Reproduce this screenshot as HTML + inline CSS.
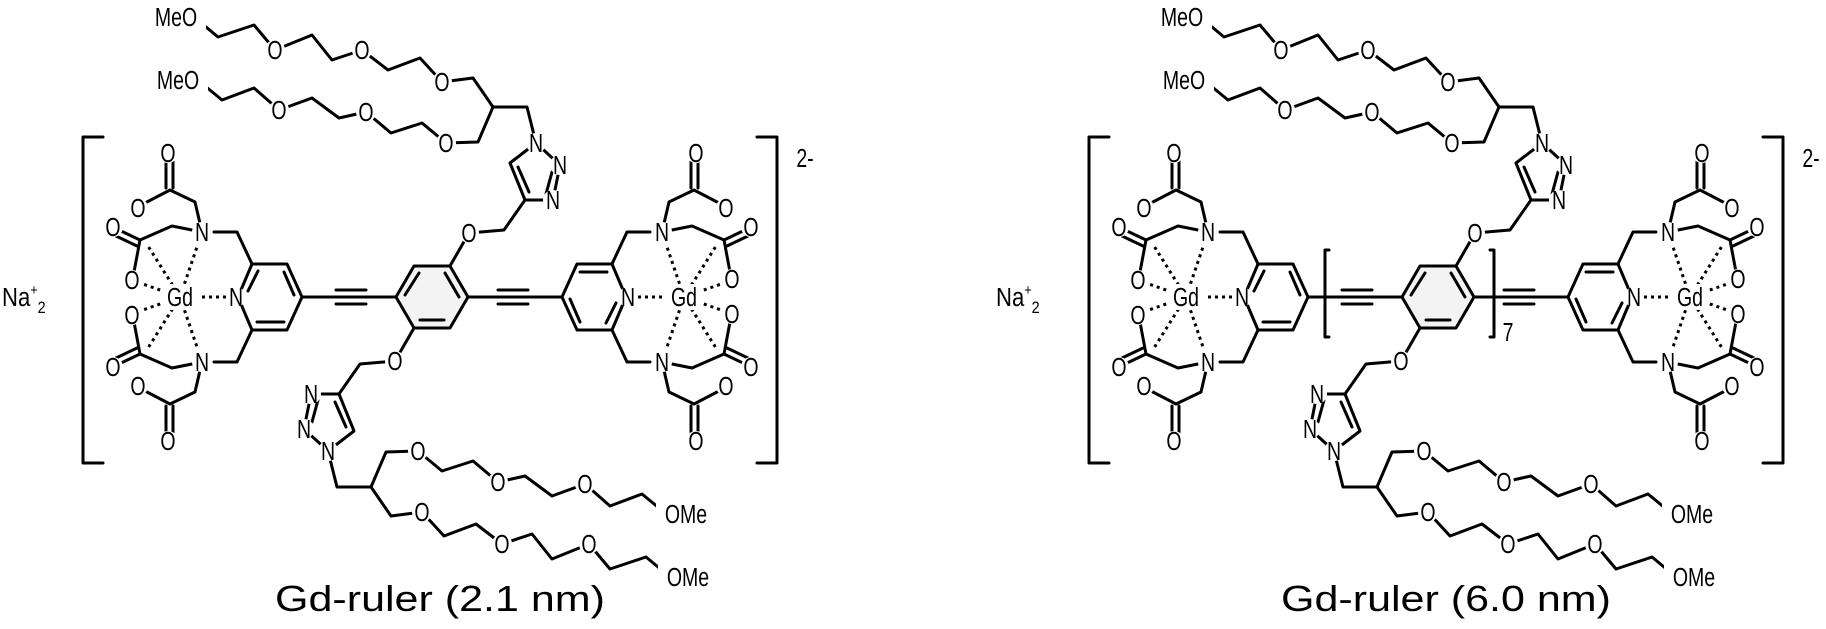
<!DOCTYPE html>
<html><head><meta charset="utf-8"><style>
html,body{margin:0;padding:0;background:#fff;}
svg{display:block}
.b{stroke:#000;stroke-width:3;fill:none;stroke-linecap:round;stroke-linejoin:round}
.d{stroke:#000;stroke-width:3;fill:none;stroke-dasharray:3 4}
.t{font-family:"Liberation Sans",sans-serif;font-size:26px;text-anchor:middle;dominant-baseline:central;fill:#000}
.c{font-family:"Liberation Sans",sans-serif;fill:#000}
</style></head><body>
<svg width="1826" height="629" viewBox="0 0 1826 629" xmlns="http://www.w3.org/2000/svg">
<defs>
<g id="half">
 <polyline class="b" points="200,22 218,37 254,25 275,50 312,35 332,60 362,50 388,70 420,58 442,82 473,78 493,107"/>
 <polyline class="b" points="205,86 222,100 254,88 279,110 312,98 339,118 366,112 391,133 422,123 446,143 478,142 493,107"/>
 <polyline class="b" points="493,107 527,107 536,143"/>
 <polygon class="b" points="536,143 560,165 553,200 525,200 510,163"/>
 <line class="b" x1="529" y1="192" x2="518" y2="167"/>
 <line class="b" x1="552" y1="172" x2="546" y2="194"/>
 <polyline class="b" points="525,200 504,230 469,233 450,266"/>
 <line class="b" x1="302" y1="297" x2="396" y2="297"/>
 <line class="b" x1="336" y1="290" x2="366" y2="290"/>
 <line class="b" x1="336" y1="304" x2="366" y2="304"/>
 <polygon class="b" points="238,297 252,264 287,264 302,297 287,330 252,330"/>
 <line class="b" x1="248" y1="291" x2="258" y2="271"/>
 <line class="b" x1="284" y1="272" x2="294" y2="295"/>
 <line class="b" x1="284" y1="322" x2="257" y2="322"/>
 <polyline class="b" points="214,232 237,232 252,264"/>
 <polyline class="b" points="214,362 237,362 252,330"/>
 <polyline class="b" points="202,232 195,202 170,190 145,203"/>
 <line class="b" x1="166" y1="188" x2="166" y2="160"/>
 <line class="b" x1="173" y1="188" x2="173" y2="160"/>
 <polyline class="b" points="202,232 172,226 140,240 134,272"/>
 <line class="b" x1="140" y1="240" x2="119" y2="230"/>
 <line class="b" x1="137" y1="246" x2="116" y2="236"/>
 <polyline class="b" points="202,362 195,392 170,404 145,391"/>
 <line class="b" x1="166" y1="406" x2="166" y2="434"/>
 <line class="b" x1="173" y1="406" x2="173" y2="434"/>
 <polyline class="b" points="202,362 172,368 140,354 134,322"/>
 <line class="b" x1="140" y1="354" x2="119" y2="364"/>
 <line class="b" x1="137" y1="348" x2="116" y2="358"/>
 <line class="d" x1="180" y1="297" x2="198" y2="244"/>
 <line class="d" x1="180" y1="297" x2="148" y2="246"/>
 <line class="d" x1="180" y1="297" x2="140" y2="283"/>
 <line class="d" x1="180" y1="297" x2="140" y2="311"/>
 <line class="d" x1="180" y1="297" x2="148" y2="348"/>
 <line class="d" x1="180" y1="297" x2="198" y2="350"/>
 <line class="d" x1="195" y1="297" x2="226" y2="297"/>
 <g fill="#fff">
  <circle cx="275" cy="50" r="10"/><circle cx="362" cy="50" r="10"/><circle cx="442" cy="82" r="10"/>
  <circle cx="279" cy="110" r="10"/><circle cx="366" cy="112" r="10"/><circle cx="446" cy="143" r="10"/>
  <circle cx="536" cy="143" r="10"/><circle cx="560" cy="165" r="10"/><circle cx="553" cy="200" r="10"/>
  <circle cx="469" cy="233" r="10"/><circle cx="236" cy="297" r="10"/><circle cx="202" cy="232" r="10"/><circle cx="202" cy="362" r="10"/>
  <circle cx="168" cy="153" r="10"/><circle cx="138" cy="208" r="10"/><circle cx="113" cy="227" r="10"/><circle cx="132" cy="280" r="10"/>
  <circle cx="132" cy="315" r="10"/><circle cx="113" cy="367" r="10"/><circle cx="138" cy="386" r="10"/><circle cx="168" cy="441" r="10"/>
  <rect x="162" y="284" width="36" height="26"/>
  <rect x="146" y="4" width="60" height="26"/><rect x="148" y="67" width="60" height="26"/>
 </g>
</g>
<g id="mol">
 <polygon points="396,297 414,266 450,266 468,297 450,328 414,328" fill="#f3f3f3" stroke="#000" stroke-width="3" stroke-linejoin="round"/>
 <line class="b" x1="405" y1="295" x2="419" y2="273"/>
 <line class="b" x1="445" y1="273" x2="459" y2="297"/>
 <line class="b" x1="420" y1="320" x2="444" y2="320"/>
 <use href="#half"/>
 <use href="#half" transform="rotate(180 432 297)"/>
</g>
</defs>

<!-- LEFT MOLECULE -->
<use href="#mol"/>
<path class="b" d="M103,137 H83 V463 H103"/>
<path class="b" d="M757,137 H777 V463 H757"/>
<g class="t">
<text transform="translate(176,17) scale(.75,1)">MeO</text>
<text transform="translate(178,80) scale(.75,1)">MeO</text>
<text transform="translate(275,50) scale(.75,1)">O</text><text transform="translate(362,50) scale(.75,1)">O</text><text transform="translate(442,82) scale(.75,1)">O</text>
<text transform="translate(279,110) scale(.75,1)">O</text><text transform="translate(366,112) scale(.75,1)">O</text><text transform="translate(446,143) scale(.75,1)">O</text>
<text transform="translate(536,143) scale(.75,1)">N</text><text transform="translate(560,165) scale(.75,1)">N</text><text transform="translate(553,200) scale(.75,1)">N</text>
<text transform="translate(469,233) scale(.75,1)">O</text>
<text transform="translate(180,297) scale(.75,1)">Gd</text><text transform="translate(236,297) scale(.75,1)">N</text>
<text transform="translate(202,232) scale(.75,1)">N</text><text transform="translate(202,362) scale(.75,1)">N</text>
<text transform="translate(168,153) scale(.75,1)">O</text><text transform="translate(138,208) scale(.75,1)">O</text><text transform="translate(113,227) scale(.75,1)">O</text><text transform="translate(132,280) scale(.75,1)">O</text>
<text transform="translate(132,315) scale(.75,1)">O</text><text transform="translate(113,367) scale(.75,1)">O</text><text transform="translate(138,386) scale(.75,1)">O</text><text transform="translate(168,441) scale(.75,1)">O</text>
<text transform="translate(688,577) scale(.75,1)">OMe</text>
<text transform="translate(686,514) scale(.75,1)">OMe</text>
<text transform="translate(589,544) scale(.75,1)">O</text><text transform="translate(502,544) scale(.75,1)">O</text><text transform="translate(422,512) scale(.75,1)">O</text>
<text transform="translate(585,484) scale(.75,1)">O</text><text transform="translate(498,482) scale(.75,1)">O</text><text transform="translate(418,451) scale(.75,1)">O</text>
<text transform="translate(328,451) scale(.75,1)">N</text><text transform="translate(304,429) scale(.75,1)">N</text><text transform="translate(311,394) scale(.75,1)">N</text>
<text transform="translate(395,361) scale(.75,1)">O</text>
<text transform="translate(684,297) scale(.75,1)">Gd</text><text transform="translate(628,297) scale(.75,1)">N</text>
<text transform="translate(662,362) scale(.75,1)">N</text><text transform="translate(662,232) scale(.75,1)">N</text>
<text transform="translate(696,441) scale(.75,1)">O</text><text transform="translate(726,386) scale(.75,1)">O</text><text transform="translate(751,367) scale(.75,1)">O</text><text transform="translate(732,314) scale(.75,1)">O</text>
<text transform="translate(732,279) scale(.75,1)">O</text><text transform="translate(751,227) scale(.75,1)">O</text><text transform="translate(726,208) scale(.75,1)">O</text><text transform="translate(696,153) scale(.75,1)">O</text>
<text transform="translate(805,158) scale(.75,1)">2-</text>
</g>
<text class="c" transform="translate(2,306) scale(.85,1)" font-size="26">Na<tspan dy="-11" font-size="15">+</tspan><tspan dy="18" font-size="17">2</tspan></text>
<text class="c" x="275" y="611" font-size="36" textLength="330" lengthAdjust="spacingAndGlyphs">Gd-ruler (2.1 nm)</text>

<!-- RIGHT MOLECULE -->
<g transform="translate(1006,0)">
<use href="#mol"/>
<path class="b" d="M103,137 H83 V463 H103"/>
<path class="b" d="M757,137 H777 V463 H757"/>
<path class="b" d="M323,250 H319 V337 H323"/>
<path class="b" d="M484,250 H488 V337 H484"/>
<g class="t">
<text transform="translate(176,17) scale(.75,1)">MeO</text>
<text transform="translate(178,80) scale(.75,1)">MeO</text>
<text transform="translate(275,50) scale(.75,1)">O</text><text transform="translate(362,50) scale(.75,1)">O</text><text transform="translate(442,82) scale(.75,1)">O</text>
<text transform="translate(279,110) scale(.75,1)">O</text><text transform="translate(366,112) scale(.75,1)">O</text><text transform="translate(446,143) scale(.75,1)">O</text>
<text transform="translate(536,143) scale(.75,1)">N</text><text transform="translate(560,165) scale(.75,1)">N</text><text transform="translate(553,200) scale(.75,1)">N</text>
<text transform="translate(469,233) scale(.75,1)">O</text>
<text transform="translate(180,297) scale(.75,1)">Gd</text><text transform="translate(236,297) scale(.75,1)">N</text>
<text transform="translate(202,232) scale(.75,1)">N</text><text transform="translate(202,362) scale(.75,1)">N</text>
<text transform="translate(168,153) scale(.75,1)">O</text><text transform="translate(138,208) scale(.75,1)">O</text><text transform="translate(113,227) scale(.75,1)">O</text><text transform="translate(132,280) scale(.75,1)">O</text>
<text transform="translate(132,315) scale(.75,1)">O</text><text transform="translate(113,367) scale(.75,1)">O</text><text transform="translate(138,386) scale(.75,1)">O</text><text transform="translate(168,441) scale(.75,1)">O</text>
<text transform="translate(688,577) scale(.75,1)">OMe</text>
<text transform="translate(686,514) scale(.75,1)">OMe</text>
<text transform="translate(589,544) scale(.75,1)">O</text><text transform="translate(502,544) scale(.75,1)">O</text><text transform="translate(422,512) scale(.75,1)">O</text>
<text transform="translate(585,484) scale(.75,1)">O</text><text transform="translate(498,482) scale(.75,1)">O</text><text transform="translate(418,451) scale(.75,1)">O</text>
<text transform="translate(328,451) scale(.75,1)">N</text><text transform="translate(304,429) scale(.75,1)">N</text><text transform="translate(311,394) scale(.75,1)">N</text>
<text transform="translate(395,361) scale(.75,1)">O</text>
<text transform="translate(684,297) scale(.75,1)">Gd</text><text transform="translate(628,297) scale(.75,1)">N</text>
<text transform="translate(662,362) scale(.75,1)">N</text><text transform="translate(662,232) scale(.75,1)">N</text>
<text transform="translate(696,441) scale(.75,1)">O</text><text transform="translate(726,386) scale(.75,1)">O</text><text transform="translate(751,367) scale(.75,1)">O</text><text transform="translate(732,314) scale(.75,1)">O</text>
<text transform="translate(732,279) scale(.75,1)">O</text><text transform="translate(751,227) scale(.75,1)">O</text><text transform="translate(726,208) scale(.75,1)">O</text><text transform="translate(696,153) scale(.75,1)">O</text>
<text transform="translate(805,158) scale(.75,1)">2-</text>
<text transform="translate(502,332) scale(.75,1)">7</text>
</g>
<text class="c" transform="translate(-10,306) scale(.85,1)" font-size="26">Na<tspan dy="-11" font-size="15">+</tspan><tspan dy="18" font-size="17">2</tspan></text>
<text class="c" x="275" y="611" font-size="36" textLength="330" lengthAdjust="spacingAndGlyphs">Gd-ruler (6.0 nm)</text>
</g>
</svg>
</body></html>
